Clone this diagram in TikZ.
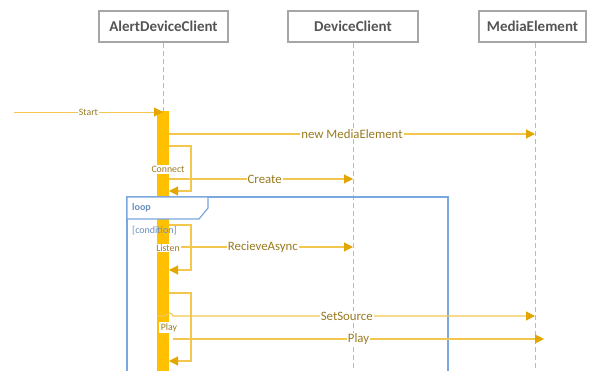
\documentclass[tikz,border=0pt]{standalone}
\usepackage{fontspec}
\setmainfont{Carlito}
\usetikzlibrary{arrows.meta}
\definecolor{barY}{HTML}{FFC000}
\definecolor{msgY}{HTML}{F3C74E}
\definecolor{tipY}{HTML}{E3A600}
\definecolor{lblY}{HTML}{9A7A20}
\definecolor{frameB}{HTML}{7AA7DE}
\definecolor{hdrG}{HTML}{A6A6A6}
\definecolor{hdrT}{HTML}{555555}
\begin{document}
\begin{tikzpicture}[x=1pt,y=-1pt,
  header/.style={draw=hdrG,line width=2.4pt,fill=white,text=hdrT,
    font=\bfseries\fontsize{15}{17}\selectfont,minimum height=31pt,inner sep=0pt},
  lifeline/.style={draw=gray!55,dash pattern=on 5pt off 3pt,line width=0.7pt},
  msg/.style={draw=msgY,line width=1.1pt,-{Triangle[length=9pt,width=9pt,color=tipY]}},
  msglbl/.style={fill=white,text=lblY,font=\fontsize{12.8}{14}\selectfont,inner sep=1pt},
  smalllbl/.style={fill=white,text=lblY,font=\fontsize{9.8}{11}\selectfont,inner sep=1pt},
  framebox/.style={draw=frameB,line width=1.2pt},
  framelbl/.style={text=frameB!85!black,font=\fontsize{10}{11}\selectfont,inner sep=0pt,anchor=west},
  bar/.style={fill=barY,draw=none}]
\useasboundingbox (0,0) rectangle (591,371);
\clip (0,0) rectangle (591,371);

% participants
\node[header,minimum width=129pt] (adc) at (163.5,26.5) {AlertDeviceClient};
\node[header,minimum width=130pt] (dc) at (353,26.5) {DeviceClient};
\node[header,minimum width=107pt] (me) at (532.5,26.5) {MediaElement};

% lifelines
\coordinate (adcEnd) at (163,380);
\coordinate (dcEnd) at (353,380);
\coordinate (meTop) at (535,43);
\coordinate (meEnd) at (535,380);
\draw[lifeline] (adc.south) -- (adcEnd);
\draw[lifeline] (dc.south) -- (dcEnd);
\draw[lifeline] (meTop) -- (meEnd);

% activation bar
\fill[bar] (157,111) rectangle (169,380);

% loop frame
\draw[framebox] (127,380) |- (448,197) -- (448,380);
\draw[framebox,fill=white] (127,197) -- (208,197) -- (208,208) -- (199,219) -- (127,219) -- cycle;
\node[framelbl,font=\bfseries\fontsize{10}{11}\selectfont] (looplbl) at (132,208) {loop};
\node[framelbl] (cond) at (132,231) {[condition]};

% anchor points on the bar and lifelines
\coordinate (startL) at (14,112);
\coordinate (startR) at (163,112);
\coordinate (newL) at (169,134);
\coordinate (newR) at (535,134);
\coordinate (conA) at (169,146);
\coordinate (conB) at (191,146);
\coordinate (conC) at (191,191);
\coordinate (conD) at (169,191);
\coordinate (creL) at (169,179);
\coordinate (creR) at (353,179);
\coordinate (lisA) at (169,225);
\coordinate (lisB) at (191,225);
\coordinate (lisC) at (191,270);
\coordinate (lisD) at (169,270);
\coordinate (recL) at (169,247);
\coordinate (recR) at (353,247);
\coordinate (plyA) at (169,293);
\coordinate (plyB) at (191,293);
\coordinate (plyC) at (191,361);
\coordinate (plyD) at (169,361);
\coordinate (setL) at (157,316);
\coordinate (setJ) at (166,316);
\coordinate (setK) at (173,316);
\coordinate (setR) at (535,316);
\coordinate (playL) at (173,339);
\coordinate (playR) at (544,339);

% messages
\draw[msg,line width=0.8pt] (startL) -- node[smalllbl,pos=0.5] {Start} (startR);
\draw[msg] (newL) -- node[msglbl,pos=0.5] {new MediaElement} (newR);
\draw[msg] (conA) -- (conB) -- (conC) -- (conD);
\draw[msg] (creL) -- node[msglbl,pos=0.52] {Create} (creR);
\node[smalllbl] (conlbl) at (168,169.5) {Connect};
\draw[msg] (lisA) -- (lisB) -- (lisC) -- (lisD);
\draw[msg] (recL) -- node[msglbl,pos=0.51] {RecieveAsync} (recR);
\node[smalllbl] (lislbl) at (168,248) {Listen};
\draw[msg] (plyA) -- (plyB) -- (plyC) -- (plyD);
\draw[msg] (setL) -- (setJ) .. controls (167,312) and (172,312) .. (setK) -- node[msglbl,pos=0.48] {SetSource} (setR);
\node[smalllbl,inner sep=1.5pt] (plylbl) at (169,327.5) {Play};
\draw[msg] (playL) -- node[msglbl,pos=0.5] {Play} (playR);
\end{tikzpicture}
\end{document}
